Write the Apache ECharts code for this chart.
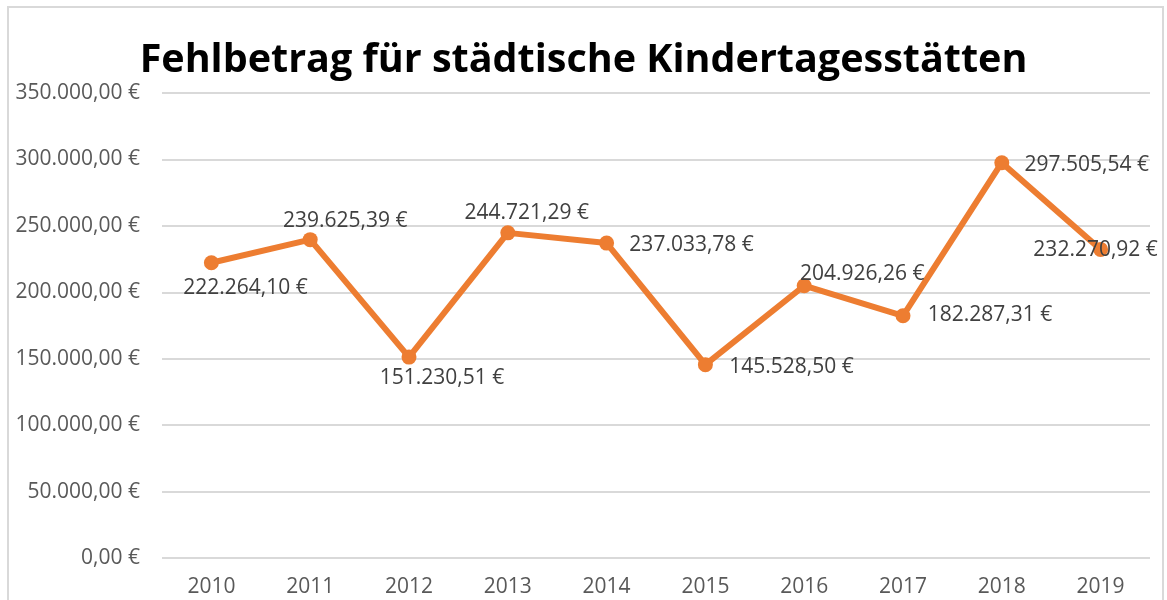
<!DOCTYPE html>
<html>
<head>
<meta charset="utf-8">
<script src="https://cdn.jsdelivr.net/npm/echarts@6/dist/echarts.min.js"></script>
<style>
html,body{margin:0;padding:0;background:#fff;}
#chart{width:1167px;height:600px;}
</style>
</head>
<body>
<div id="chart"></div>
<script>
const titleText = 'Fehlbetrag für städtische Kindertagesstätten';
const categories = ['2010','2011','2012','2013','2014','2015','2016','2017','2018','2019'];
const values = [222264.10, 239625.39, 151230.51, 244721.29, 237033.78, 145528.50, 204926.26, 182287.31, 297505.54, 232270.92];
const labelOffsets = [[34,25],[35,-19],[33,21],[19,-20],[85,2],[86,2],[58,-12],[87,-1],[85,2],[-5,1]];
const yMin = 0, yMax = 350000, yStep = 50000;

function fmtEuro(v){
  const parts = v.toFixed(2).split('.');
  const intPart = parts[0].replace(/\B(?=(\d{3})+(?!\d))/g, '.');
  return intPart + ',' + parts[1] + '\u00A0€';
}

const chart = echarts.init(document.getElementById('chart'));
const FONT = 'Open Sans';
chart.setOption({
  backgroundColor: '#fff',
  animation: false,
  title: {
    text: titleText,
    left: 'center',
    top: 36,
    textStyle: {fontFamily: FONT, fontWeight: 'bold', fontSize: 39.5, color: '#000'}
  },
  graphic: [{
    type: 'rect',
    shape: {x: 8, y: 7, width: 1155, height: 620},
    style: {fill: 'none', stroke: '#d9d9d9', lineWidth: 2},
    silent: true
  }],
  grid: {left: 162, right: 17, top: 93, bottom: 42, containLabel: false},
  xAxis: {
    type: 'category',
    data: categories,
    boundaryGap: true,
    axisLine: {show: false},
    axisTick: {show: false},
    axisLabel: {color: '#595959', fontFamily: FONT, fontSize: 21, margin: 19}
  },
  yAxis: {
    type: 'value',
    min: yMin, max: yMax, interval: yStep,
    axisLine: {show: false},
    axisTick: {show: false},
    splitLine: {lineStyle: {color: '#d9d9d9', width: 2}},
    axisLabel: {color: '#595959', fontFamily: FONT, fontSize: 21, margin: 22,
      formatter: v => fmtEuro(v)}
  },
  series: [{
    type: 'line',
    data: values.map((v, i) => ({
      value: v,
      label: {offset: labelOffsets[i]}
    })),
    lineStyle: {color: '#ED7D31', width: 6},
    itemStyle: {color: '#ED7D31'},
    symbol: 'circle',
    symbolSize: 15,
    label: {
      show: true,
      position: 'inside',
      align: 'center',
      verticalAlign: 'middle',
      color: '#404040',
      fontFamily: FONT,
      fontSize: 21,
      formatter: p => fmtEuro(p.value)
    },
    z: 3
  }]
});
</script>
</body>
</html>
